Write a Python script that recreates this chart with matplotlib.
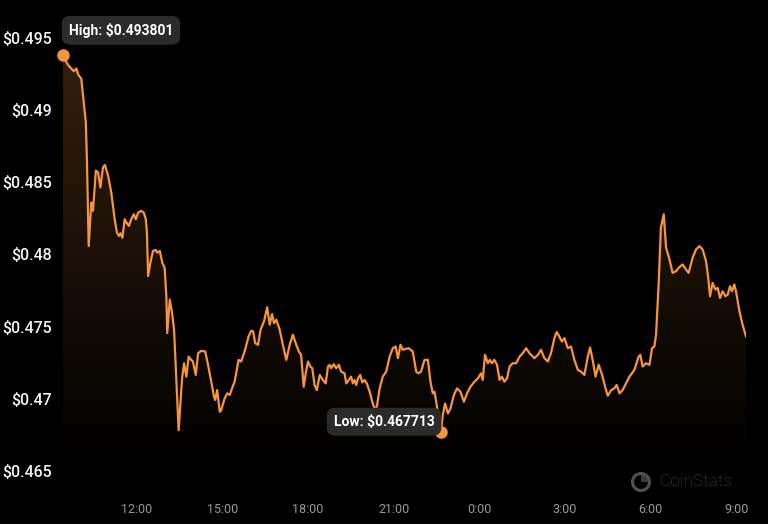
import matplotlib.pyplot as plt
import matplotlib.patches as mpatches
import numpy as np

# hours since midnight of the first day (24 = 0:00 next day)
hours = [9.42, 9.60, 9.71, 9.80, 9.89, 9.95, 10.06, 10.12, 10.22, 10.26,
         10.32, 10.41, 10.47, 10.57, 10.65, 10.73, 10.82, 10.89, 11.00, 11.11,
         11.23, 11.31, 11.38, 11.43, 11.50, 11.58, 11.64, 11.73, 11.81, 11.90,
         11.97, 12.05, 12.16, 12.25, 12.32, 12.36, 12.40, 12.48, 12.57, 12.67,
         12.72, 12.81, 12.90, 12.98, 13.04, 13.07, 13.16, 13.24, 13.31, 13.39,
         13.47, 13.59, 13.66, 13.74, 13.82, 13.91, 13.97, 14.07, 14.15, 14.26,
         14.40, 14.50, 14.59, 14.71, 14.75, 14.82, 14.91, 14.96, 15.08, 15.17,
         15.26, 15.34, 15.43, 15.57, 15.66, 15.78, 15.92, 16.01, 16.08, 16.15,
         16.25, 16.34, 16.46, 16.57, 16.66, 16.74, 16.81, 16.89, 17.01, 17.12,
         17.24, 17.36, 17.47, 17.59, 17.68, 17.76, 17.85, 17.92, 18.00, 18.08,
         18.15, 18.23, 18.31, 18.41, 18.52, 18.62, 18.70, 18.76, 18.81, 18.90,
         18.99, 19.08, 19.16, 19.28, 19.34, 19.43, 19.51, 19.57, 19.63, 19.69,
         19.75, 19.83, 19.90, 19.98, 20.06, 20.16, 20.25, 20.33, 20.41, 20.51,
         20.62, 20.74, 20.86, 20.97, 21.07, 21.15, 21.24, 21.32, 21.44, 21.53,
         21.67, 21.79, 21.87, 21.96, 22.08, 22.20, 22.29, 22.37, 22.43, 22.49,
         22.55, 22.66, 22.72, 22.80, 22.90, 22.99, 23.11, 23.22, 23.34, 23.46,
         23.57, 23.69, 23.83, 23.95, 24.06, 24.12, 24.20, 24.30, 24.37, 24.44,
         24.53, 24.62, 24.71, 24.79, 24.88, 24.97, 25.06, 25.17, 25.29, 25.41,
         25.52, 25.64, 25.76, 25.93, 26.05, 26.16, 26.28, 26.40, 26.51, 26.63,
         26.71, 26.80, 26.89, 26.98, 27.10, 27.21, 27.33, 27.45, 27.56, 27.68,
         27.80, 27.88, 27.97, 28.07, 28.18, 28.30, 28.42, 28.50, 28.62, 28.73,
         28.81, 28.91, 29.02, 29.14, 29.26, 29.43, 29.58, 29.64, 29.72, 29.84,
         29.96, 30.05, 30.13, 30.19, 30.28, 30.36, 30.46, 30.54, 30.66, 30.77,
         30.89, 30.98, 31.12, 31.24, 31.33, 31.47, 31.59, 31.71, 31.82, 31.94,
         32.03, 32.08, 32.17, 32.27, 32.35, 32.43, 32.52, 32.62, 32.70, 32.78,
         32.85, 32.93, 32.99, 33.11, 33.22, 33.34]

prices = [0.493801, 0.49312, 0.49289, 0.49270, 0.49289, 0.49247, 0.49219, 0.49103, 0.48917, 0.48639,
          0.48058, 0.48360, 0.48302, 0.48581, 0.48569, 0.48464, 0.48604, 0.48620, 0.48546, 0.48430,
          0.48244, 0.48151, 0.48128, 0.48147, 0.48116, 0.48244, 0.48221, 0.48198, 0.48244, 0.48279,
          0.48244, 0.48290, 0.48302, 0.48290, 0.48244, 0.48151, 0.47850, 0.47942, 0.48024, 0.48031,
          0.48012, 0.48024, 0.47942, 0.47907, 0.47710, 0.47455, 0.47687, 0.47594, 0.47478, 0.47130,
          0.46782, 0.47141, 0.47246, 0.47153, 0.47292, 0.47269, 0.47258, 0.47165, 0.47315, 0.47332,
          0.47327, 0.47235, 0.47141, 0.47014, 0.46991, 0.47060, 0.46909, 0.46921, 0.47002, 0.47037,
          0.47026, 0.47072, 0.47118, 0.47269, 0.47258, 0.47327, 0.47432, 0.47471, 0.47467, 0.47385,
          0.47374, 0.47478, 0.47536, 0.47634, 0.47513, 0.47587, 0.47524, 0.47548, 0.47478, 0.47374,
          0.47269, 0.47374, 0.47444, 0.47374, 0.47327, 0.47304, 0.47083, 0.47176, 0.47258, 0.47223,
          0.47211, 0.47095, 0.47060, 0.47165, 0.47130, 0.47106, 0.47223, 0.47235, 0.47211, 0.47239,
          0.47211, 0.47235, 0.47188, 0.47176, 0.47106, 0.47130, 0.47153, 0.47106, 0.47130, 0.47095,
          0.47141, 0.47165, 0.47113, 0.47130, 0.47106, 0.47049, 0.46979, 0.46932, 0.46944, 0.47072,
          0.47153, 0.47188, 0.47292, 0.47350, 0.47362, 0.47281, 0.47374, 0.47339, 0.47346, 0.47350,
          0.47327, 0.47188, 0.47176, 0.47188, 0.47269, 0.47269, 0.47118, 0.47037, 0.47049, 0.46979,
          0.46909, 0.467713, 0.46886, 0.46967, 0.46898, 0.46932, 0.47026, 0.47072, 0.47049, 0.46979,
          0.47037, 0.47083, 0.47118, 0.47141, 0.47176, 0.47130, 0.47304, 0.47246, 0.47269, 0.47246,
          0.47269, 0.47235, 0.47130, 0.47153, 0.47118, 0.47141, 0.47223, 0.47246, 0.47246, 0.47292,
          0.47315, 0.47350, 0.47315, 0.47281, 0.47304, 0.47339, 0.47281, 0.47258, 0.47315, 0.47420,
          0.47462, 0.47432, 0.47397, 0.47420, 0.47350, 0.47362, 0.47269, 0.47200, 0.47188, 0.47165,
          0.47292, 0.47355, 0.47269, 0.47153, 0.47235, 0.47165, 0.47072, 0.47021, 0.47060, 0.47072,
          0.47095, 0.47037, 0.47060, 0.47106, 0.47153, 0.47200, 0.47292, 0.47304, 0.47223, 0.47246,
          0.47235, 0.47350, 0.47362, 0.47444, 0.47792, 0.48186, 0.48279, 0.48047, 0.47966, 0.47872,
          0.47884, 0.47907, 0.47931, 0.47896, 0.47872, 0.47977, 0.48035, 0.48058, 0.48035, 0.47954,
          0.47815, 0.47710, 0.47803, 0.47757, 0.47768, 0.47698, 0.47745, 0.47710, 0.47722, 0.47780,
          0.47745, 0.47792, 0.47745, 0.47606, 0.47513, 0.47432]

y_ticks = [0.465, 0.47, 0.475, 0.48, 0.485, 0.49, 0.495]
y_labels = ["$0.465", "$0.47", "$0.475", "$0.48", "$0.485", "$0.49", "$0.495"]
x_ticks = [12, 15, 18, 21, 24, 27, 30, 33]
x_labels = ["12:00", "15:00", "18:00", "21:00", "0:00", "3:00", "6:00", "9:00"]

line_col = "#f7953d"
plt.rcParams['font.family'] = ['Roboto', 'DejaVu Sans']

fig = plt.figure(figsize=(7.68, 5.24), dpi=100, facecolor="black")
ax = fig.add_axes([63 / 768, 1 - 472 / 524, 683 / 768, 452 / 524])
ax.set_facecolor("black")

x = np.array(hours)
y = np.array(prices)
ymin, ymax = 0.46492, 0.49625
ax.set_xlim(x[0], x[-1])
ax.set_ylim(ymin, ymax)

# gradient under the line
grad = np.zeros((256, 2, 4))
grad[:, :, :3] = np.array([247, 149, 61]) / 255.0
grad[:, :, 3] = np.linspace(0.0, 0.21, 256)[:, None]
im = ax.imshow(grad, extent=[x[0], x[-1], ymin, y.max()], origin="lower",
               aspect="auto", zorder=1, interpolation="bilinear")
poly = ax.fill_between(x, y, ymin, color="none", linewidth=0)
im.set_clip_path(poly.get_paths()[0], transform=ax.transData)

ax.plot(x, y, color=line_col, linewidth=1.6, zorder=3, solid_joinstyle="round")

# high / low markers
i_hi = int(np.argmax(y))
i_lo = int(np.argmin(y))
ax.plot(x[i_hi], y[i_hi], "o", color=line_col, markersize=8, zorder=4, clip_on=False)
ax.plot(x[i_lo], y[i_lo], "o", color=line_col, markersize=8, zorder=4, clip_on=False)
box = dict(boxstyle="round,pad=0.5,rounding_size=0.6", fc="#2b2b2b", ec="none")
ax.annotate("High: $%.6f" % y[i_hi], (x[i_hi], y[i_hi]), xytext=(58, 25),
            textcoords="offset pixels", ha="center", va="center", color="white",
            fontsize=10, fontweight="bold", bbox=box, zorder=5, annotation_clip=False)
ax.annotate("Low: $%.6f" % y[i_lo], (x[i_lo], y[i_lo]), xytext=(-57, 10),
            textcoords="offset pixels", ha="center", va="center", color="white",
            fontsize=10, fontweight="bold", bbox=box, zorder=5, annotation_clip=False)

ax.set_yticks(y_ticks)
ax.set_yticklabels(y_labels, fontweight="medium")
ax.set_xticks(x_ticks)
ax.set_xticklabels(x_labels)
ax.tick_params(axis="y", length=0, pad=8, labelsize=11.5, labelcolor="#f2f2f2")
ax.tick_params(axis="x", length=0, pad=22, labelsize=9, labelcolor="#9a9a9a")
for s in ax.spines.values():
    s.set_visible(False)

# CoinStats watermark
ring = mpatches.Circle((6.41, 0.42), 0.085, transform=fig.dpi_scale_trans,
                       fill=False, ec="#505050", lw=2.2)
wedge = mpatches.Wedge((6.41, 0.42), 0.085, 0, 90, transform=fig.dpi_scale_trans,
                       fc="#3a3a3a", ec="none")
fig.add_artist(wedge)
fig.add_artist(ring)
fig.text(660 / 768, 1 - 482 / 524, "CoinStats", color="#4a4a4a", fontsize=12.5,
         va="center", ha="left", fontweight="light")

plt.savefig("out.png", dpi=100, facecolor="black")
